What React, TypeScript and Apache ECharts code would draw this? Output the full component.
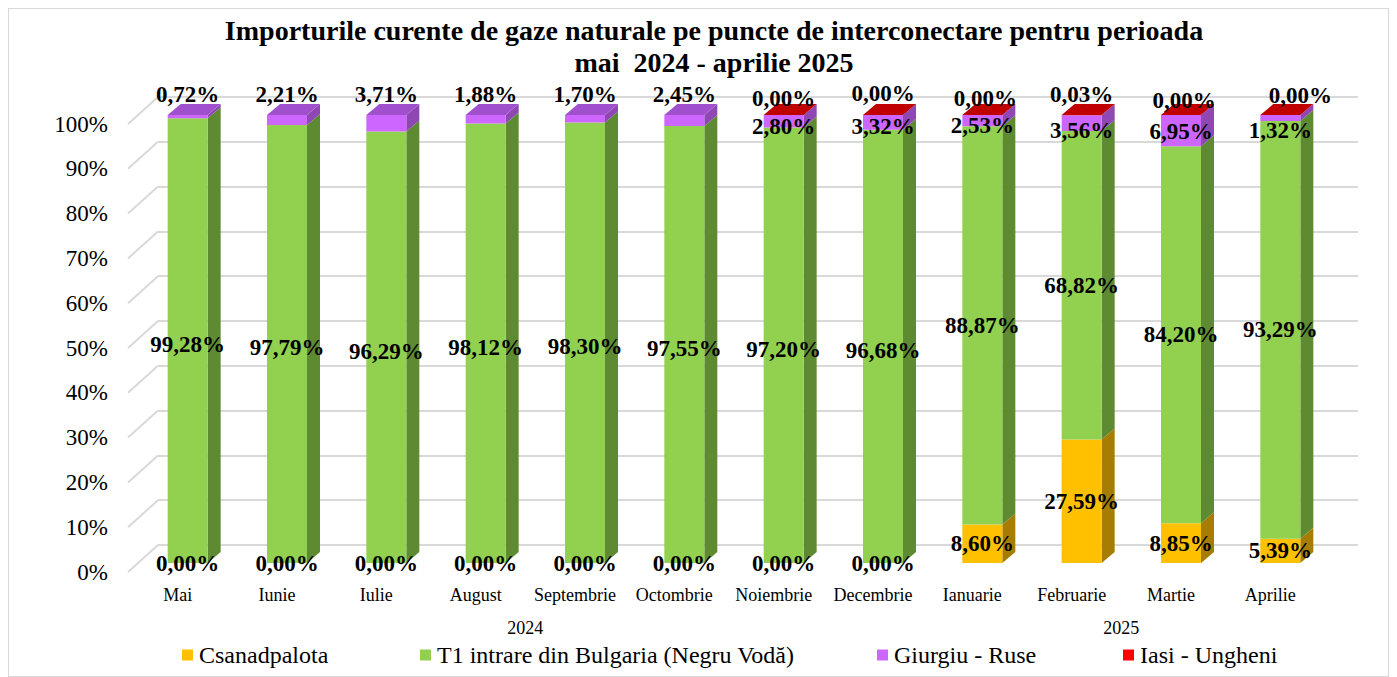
import React, { useEffect, useRef } from 'react';
import * as echarts from 'echarts';

const months = ['Mai', 'Iunie', 'Iulie', 'August', 'Septembrie', 'Octombrie', 'Noiembrie', 'Decembrie', 'Ianuarie', 'Februarie', 'Martie', 'Aprilie'];
const years = ['2024', '2025'];
const yearFirstIdx = [0, 8];
const yearLastIdx = [7, 11];
const yTicks = [0, 10, 20, 30, 40, 50, 60, 70, 80, 90, 100];

const seriesNames = ['Csanadpalota', 'T1 intrare din Bulgaria (Negru Vodă)', 'Giurgiu - Ruse', 'Iasi - Ungheni'];
const csanadpalota = [0, 0, 0, 0, 0, 0, 0, 0, 8.60, 27.59, 8.85, 5.39];
const t1Bulgaria = [99.28, 97.79, 96.29, 98.12, 98.30, 97.55, 97.20, 96.68, 88.87, 68.82, 84.20, 93.29];
const giurgiuRuse = [0.72, 2.21, 3.71, 1.88, 1.70, 2.45, 2.80, 3.32, 2.53, 3.56, 6.95, 1.32];
const iasiUngheni: (number | null)[] = [null, null, null, null, null, null, 0, 0, 0, 0.03, 0, 0];

const FONT = '"Liberation Serif", "Times New Roman", serif';
const frontColors = ['#FFC000', '#92D050', '#CC66FF', '#FF0000'];
const sideColors = ['#A67D00', '#5E8A32', '#8E47B3', '#A00000'];
const topColors = ['#C89600', '#6FA03C', '#A050CC', '#C00000'];
const legendLefts = [173, 411, 868, 1114];

const DEPTH_DX = 13;
const DEPTH_DY = -11;
const BAR_W = 40;

const fmt = (v: number) => v.toFixed(2).replace('.', ',') + '%';

export default function App() {
  const ref = useRef<HTMLDivElement>(null);
  useEffect(() => {
    if (!ref.current) return;
    const chart = echarts.init(ref.current, null, { renderer: 'svg' });
    const allSeries = [csanadpalota, t1Bulgaria, giurgiuRuse, iasiUngheni];

    const labelBase = {
      show: true,
      color: '#000',
      fontFamily: FONT,
      fontWeight: 'bold' as const,
      fontSize: 23,
      formatter: (p: any) => fmt(p.value as number),
    };

    const giuOffsets = [0, 0, 0, 0, 0, 0, 5, 4, 5, 7, 1, 13];
    const iasiOffsets: [number, number][] = [[0, 0], [0, 0], [0, 0], [0, 0], [0, 0], [0, 0], [0, 2], [0, -3], [3, 2], [0, -2], [3, 4], [20, -1]];

    const barSeries = allSeries.map((arr, s) => ({
      name: seriesNames[s],
      type: 'bar',
      stack: 'total',
      xAxisIndex: 1,
      yAxisIndex: 1,
      barWidth: BAR_W,
      z: 3,
      itemStyle: { color: frontColors[s] },
      label: { ...labelBase, position: 'inside' },
      data: arr.map((v, i) => {
        if (v === null) return '-';
        if (s === 1) {
          return { value: v, label: { offset: [0, i < 8 ? 4 : 0] } };
        }
        if (s === 2) {
          if (i < 6) return { value: v, label: { position: 'top', distance: 9 } };
          return { value: v, label: { position: 'inside', offset: [0, giuOffsets[i]] } };
        }
        if (s === 3) {
          return { value: v, label: { position: 'top', distance: 7, offset: iasiOffsets[i] } };
        }
        return v;
      }),
    }));

    const faces = {
      type: 'custom',
      xAxisIndex: 1,
      yAxisIndex: 1,
      z: 1,
      silent: true,
      data: months.map((_, i) => [i, 0]),
      renderItem: (params: any, api: any) => {
        const i = api.value(0);
        const children: any[] = [];
        let base = 0;
        let topColor = '';
        let topY = 0;
        const xc = api.coord([i, 0])[0];
        const xl = xc - BAR_W / 2;
        const xr = xc + BAR_W / 2;
        allSeries.forEach((arr, s) => {
          const v = arr[i];
          if (v === null || v === undefined) return;
          const y0 = api.coord([i, base])[1];
          const y1 = api.coord([i, base + v])[1];
          if (y0 - y1 > 0.01) {
            children.push({
              type: 'polygon',
              shape: { points: [[xr, y1], [xr, y0], [xr + DEPTH_DX, y0 + DEPTH_DY], [xr + DEPTH_DX, y1 + DEPTH_DY]] },
              style: { fill: sideColors[s] },
            });
          }
          base += v;
          topColor = topColors[s];
          topY = y1;
        });
        children.push({
          type: 'polygon',
          shape: { points: [[xl, topY], [xr, topY], [xr + DEPTH_DX, topY + DEPTH_DY], [xl + DEPTH_DX, topY + DEPTH_DY]] },
          style: { fill: topColor },
        });
        return { type: 'group', children };
      },
    };

    const diagonals = {
      type: 'custom',
      xAxisIndex: 0,
      yAxisIndex: 0,
      z: 0,
      silent: true,
      data: yTicks.map((v) => [0, v]),
      renderItem: (params: any, api: any) => {
        const x0 = params.coordSys.x;
        const y0 = api.coord([0, api.value(1)])[1];
        return {
          type: 'line',
          shape: { x1: x0, y1: y0, x2: x0 + 30, y2: y0 - 27 },
          style: { stroke: '#D9D9D9', lineWidth: 2 },
        };
      },
    };

    const yearLabels = {
      type: 'custom',
      xAxisIndex: 0,
      yAxisIndex: 0,
      silent: true,
      data: years.map((_, k) => [k, 0]),
      renderItem: (params: any, api: any) => {
        const k = api.value(0);
        const xa = api.coord([yearFirstIdx[k], 0])[0];
        const xb = api.coord([yearLastIdx[k], 0])[0];
        const y = params.coordSys.y + params.coordSys.height + 56;
        return {
          type: 'text',
          x: (xa + xb) / 2,
          y,
          style: { text: years[k], fill: '#000', font: '18px ' + FONT, align: 'center', verticalAlign: 'middle' },
        };
      },
    };

    const legends = seriesNames.map((name, s) => ({
      data: [name],
      left: legendLefts[s],
      top: 634,
      padding: 0,
      itemGap: 6,
      itemWidth: 11,
      itemHeight: 11,
      icon: 'rect',
      selectedMode: false,
      textStyle: { fontFamily: FONT, fontSize: 24, color: '#000', padding: [0, 0, 0, 1] },
    }));

    const option: any = {
      animation: false,
      backgroundColor: '#fff',
      title: {
        text: 'Importurile curente de gaze naturale pe puncte de interconectare pentru perioada\nmai  2024 - aprilie 2025',
        left: 705,
        top: 5,
        padding: 0,
        textAlign: 'center',
        textStyle: { fontFamily: FONT, fontWeight: 'bold', fontSize: 28, lineHeight: 32, color: '#000' },
      },
      legend: legends,
      grid: [
        { left: 119, top: 115, width: 1192, height: 448 },
        { left: 129, top: 106, width: 1192, height: 448 },
        { left: 149, top: 88, width: 1200, height: 448 },
      ],
      xAxis: [
        {
          type: 'category', gridIndex: 0, data: months,
          axisLine: { show: false }, axisTick: { show: false },
          axisLabel: { fontFamily: FONT, fontSize: 18, color: '#000', margin: 14, interval: 0 },
        },
        { type: 'category', gridIndex: 1, data: months, show: false },
        { type: 'category', gridIndex: 2, data: months, show: false },
      ],
      yAxis: [
        {
          type: 'value', gridIndex: 0, min: 0, max: 100, interval: 10,
          axisLine: { show: false }, axisTick: { show: false }, splitLine: { show: false },
          axisLabel: { fontFamily: FONT, fontSize: 23, color: '#000', margin: 20, formatter: '{value}%' },
        },
        { type: 'value', gridIndex: 1, min: 0, max: 100, interval: 10, show: false },
        {
          type: 'value', gridIndex: 2, min: 0, max: 100, interval: 10,
          axisLine: { show: false }, axisTick: { show: false }, axisLabel: { show: false },
          splitLine: { show: true, lineStyle: { color: '#D9D9D9', width: 2 } },
        },
      ],
      series: [diagonals, faces, ...barSeries, yearLabels],
    };
    chart.setOption(option);
    return () => chart.dispose();
  }, []);
  return (
    <div
      ref={ref}
      style={{ width: 1381, height: 669, border: '1px solid #D9D9D9', boxSizing: 'border-box' }}
    />
  );
}
